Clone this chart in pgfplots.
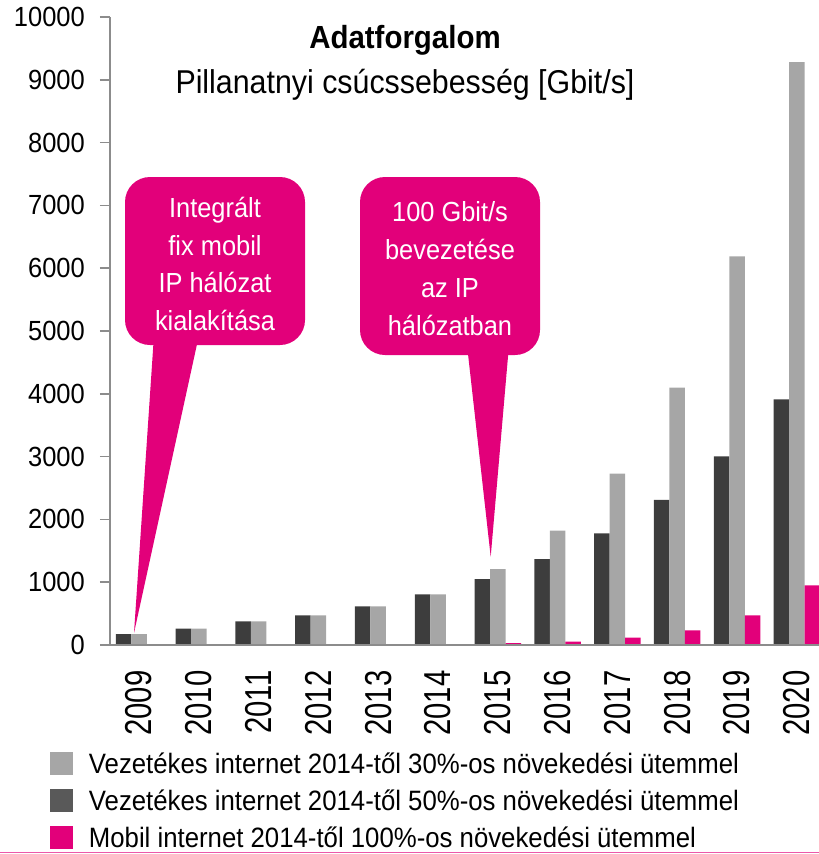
\documentclass[border=0pt]{standalone}
\usepackage{pgfplots}
\pgfplotsset{compat=1.18}
\usepackage{fontspec}
\setmainfont{Liberation Sans}[FakeStretch=0.92]
\newfontfamily\yearfont{Liberation Sans}[FakeStretch=0.78]
\definecolor{tmag}{HTML}{E2007A}
\definecolor{dgray}{HTML}{3D3D3D}
\definecolor{lgray}{HTML}{A6A6A6}
\definecolor{lgdark}{HTML}{595959}
\definecolor{axgray}{HTML}{8C8C8C}
\begin{document}
\begin{tikzpicture}[x=1pt,y=1pt]
\useasboundingbox (0,0) rectangle (819,-854);
\begin{axis}[
  name=ax,
  at={(110pt,-645pt)}, anchor=south west,
  scale only axis, width=709pt, height=628pt,
  xmin=-0.485, xmax=11.371, ymin=0, ymax=10000,
  ybar, bar width=15.5pt,
  axis line style={draw=none},
  xtick={0,...,11},
  xticklabels={2009,2010,2011,2012,2013,2014,2015,2016,2017,2018,2019,2020},
  x tick style={draw=none},
  x tick label style={rotate=90, anchor=east, inner sep=0pt, xshift=2.5pt, font=\yearfont\fontsize{37.5}{38}\selectfont},
  xticklabel shift=18pt,
  ytick={0,1000,...,10000},
  scaled y ticks=false,
  ytick pos=left,
  tick align=outside,
  major tick length=10pt,
  y tick style={axgray, line width=1.5pt},
  y tick label style={inner sep=0pt, font=\fontsize{27.7}{30}\selectfont},
  yticklabel shift=15pt,
  /pgf/number format/assume math mode=true,
  /pgf/number format/1000 sep={},
  legend image code/.code={\path[draw=none,#1] (0pt,-11.35pt) rectangle (22.7pt,11.35pt);},
  legend style={at={(axis description cs:-0.0846,-0.1624)}, anchor=north west,
    draw=none, fill=none, inner sep=0pt, row sep=5pt, column sep=16pt,
    font=\fontsize{28}{32}\selectfont,
    nodes={inner sep=0pt, text height=26pt, text depth=6pt}},
  legend cell align=left,
]
\addplot[forget plot, fill=dgray, draw=none, bar shift=-15.5pt] coordinates
 {(0,175)(1,260)(2,377)(3,473)(4,616)(5,807)(6,1048)(7,1366)(8,1777)(9,2310)(10,3005)(11,3910)};
\addplot[forget plot, fill=lgray, draw=none, bar shift=0pt] coordinates
 {(0,175)(1,260)(2,377)(3,473)(4,616)(5,807)(6,1210)(7,1820)(8,2730)(9,4100)(10,6190)(11,9280)};
\addplot[forget plot, fill=tmag, draw=none, bar shift=15.5pt] coordinates
 {(5,15)(6,30)(7,55)(8,117)(9,234)(10,473)(11,950)};
\addlegendimage{fill=lgray}
\addlegendentry{Vezetékes internet 2014-től 30\%-os növekedési ütemmel}
\addlegendimage{fill=lgdark}
\addlegendentry{Vezetékes internet 2014-től 50\%-os növekedési ütemmel}
\addlegendimage{fill=tmag}
\addlegendentry{Mobil internet 2014-től 100\%-os növekedési ütemmel}
\end{axis}
\draw[axgray, line width=1.5pt] ([xshift=-10pt]ax.south west) -- (ax.south east);
\draw[axgray, line width=1.5pt] (ax.south west) -- (ax.north west);
% bottom line
\draw[tmag!65, line width=1.2pt] (0,-852.5) -- (819,-852.5);
% titles
\node[anchor=base, font=\bfseries\fontsize{32}{36}\selectfont] at (405,-48) {Adatforgalom};
\node[anchor=base, font=\fontsize{33}{36}\selectfont] at (405,-93) {Pillanatnyi csúcssebesség [Gbit/s]};
% callout 1
\fill[tmag, rounded corners=25pt] (125,-177) rectangle (305,-345);
\fill[tmag] (154,-335) -- (199,-335) -- (134,-633) -- cycle;
% callout 2
\fill[tmag, rounded corners=25pt] (360,-177) rectangle (540,-355);
\fill[tmag] (467,-345) -- (509,-345) -- (490.7,-556.7) -- cycle;
\begin{scope}[every node/.style={anchor=base, text=white, font=\fontsize{27.6}{30}\selectfont, inner sep=0pt}]
\node at (215,-217) {Integrált};
\node at (215,-255) {fix mobil};
\node at (215,-292) {IP hálózat};
\node at (215,-330) {kialakítása};
\node at (450,-221) {100 Gbit/s};
\node at (450,-259) {bevezetése};
\node at (450,-297) {az IP};
\node at (450,-335) {hálózatban};
\end{scope}
\end{tikzpicture}
\end{document}
